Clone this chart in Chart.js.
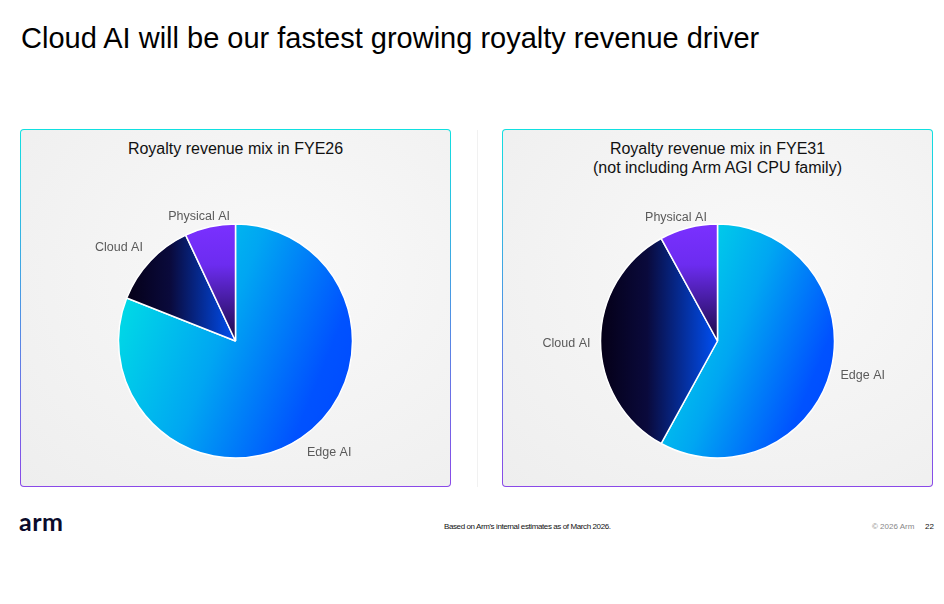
<!DOCTYPE html>
<html>
<head>
<meta charset="utf-8">
<script src="https://cdn.jsdelivr.net/npm/chart.js@4"></script>
<style>
  body { margin: 0; width: 944px; height: 604px; background: #fff; font-family: "Liberation Sans", Arial, sans-serif; position: relative; overflow: hidden; }
  .headline { position: absolute; left: 21px; top: 22px; font-size: 29px; color: #000; white-space: nowrap; }
  .panel {
    position: absolute; top: 129px; width: 429px; height: 356px;
    border: 1.5px solid transparent; border-radius: 4px;
    background: radial-gradient(ellipse at 60% 40%, #f9f9f9, #eeeeee) padding-box,
                linear-gradient(180deg, #10e0e0, #8a48e8) border-box;
  }
  .panel h2 { margin: 0; position: absolute; left: 0; right: 0; top: 9px; text-align: center; font-weight: normal; font-size: 16px; line-height: 19px; color: #111; }
  .panel .wrap { position: absolute; left: 0; top: 60.5px; width: 429px; height: 300px; }
  .divider { position: absolute; left: 477px; top: 130px; width: 1px; height: 357px; background: #f1f1f1; }
  .logo { position: absolute; left: 19px; top: 506px; font-family: Lato, sans-serif; font-weight: 700; font-size: 25px; color: #0b0b2b; letter-spacing: 0.5px; }
  .note { position: absolute; left: 444px; top: 522px; font-size: 8px; letter-spacing: -0.4px; color: #111; white-space: nowrap; }
  .copy { position: absolute; left: 872px; top: 522px; font-size: 8px; color: #888; white-space: nowrap; }
  .page { position: absolute; left: 925px; top: 522px; font-size: 8px; color: #111; }
</style>
</head>
<body>
<div class="headline">Cloud AI will be our fastest growing royalty revenue driver</div>

<div class="panel" style="left:20px">
  <h2>Royalty revenue mix in FYE26</h2>
  <div class="wrap"><canvas id="pie26"></canvas></div>
</div>
<div class="divider"></div>
<div class="panel" style="left:502px">
  <h2>Royalty revenue mix in FYE31<br>(not including Arm AGI CPU family)</h2>
  <div class="wrap"><canvas id="pie31"></canvas></div>
</div>

<div class="logo">arm</div>
<div class="note">Based on Arm's internal estimates as of March 2026.</div>
<div class="copy">© 2026 Arm</div>
<div class="page">22</div>

<script>
const categories = ["Edge AI", "Cloud AI", "Physical AI"];
const mixFYE26 = [81, 12, 7];
const mixFYE31 = [58, 34, 8];

const RADIUS = 117;

// gradient stops and direction (degrees) for each category
const fills = [
  { angle: 22, stops: [[0, "#00eae2"], [0.45, "#00a6f2"], [0.8, "#0052ff"], [1, "#0048ff"]] },
  { angle: 0, stops: [[0, "#050017"], [0.4, "#0a0a3c"], [1, "#0050f4"]] },
  { angle: 90, stops: [[0, "#7a30ff"], [0.35, "#6c2cf0"], [1, "#1a0a44"]] },
];

function sliceFill(context) {
  const chart = context.chart;
  const area = chart.chartArea;
  if (!area) return "#0050ff";
  const data = chart.data.datasets[0].data;
  const total = data.reduce((a, b) => a + b, 0);
  const i = context.dataIndex;
  let before = 0;
  for (let k = 0; k < i; k++) before += data[k];
  const a0 = -Math.PI / 2 + (before / total) * 2 * Math.PI;
  const a1 = a0 + (data[i] / total) * 2 * Math.PI;
  const cx = (area.left + area.right) / 2;
  const cy = (area.top + area.bottom) / 2;
  // bounding box of the slice
  let pts = [[cx, cy]];
  for (let s = 0; s <= 40; s++) {
    const a = a0 + (a1 - a0) * s / 40;
    pts.push([cx + Math.cos(a) * RADIUS, cy + Math.sin(a) * RADIUS]);
  }
  const xs = pts.map(p => p[0]), ys = pts.map(p => p[1]);
  const bx0 = Math.min(...xs), bx1 = Math.max(...xs), by0 = Math.min(...ys), by1 = Math.max(...ys);
  const f = fills[i];
  const t = f.angle * Math.PI / 180;
  const dx = Math.cos(t), dy = Math.sin(t);
  const mx = (bx0 + bx1) / 2, my = (by0 + by1) / 2;
  const proj = [[bx0, by0], [bx1, by0], [bx0, by1], [bx1, by1]].map(p => (p[0] - mx) * dx + (p[1] - my) * dy);
  const lo = Math.min(...proj), hi = Math.max(...proj);
  const g = chart.ctx.createLinearGradient(mx + dx * lo, my + dy * lo, mx + dx * hi, my + dy * hi);
  f.stops.forEach(s => g.addColorStop(s[0], s[1]));
  return g;
}

// category names just outside each slice, like the slide's data labels
const outsideLabels = {
  id: "outsideLabels",
  afterDatasetsDraw(chart) {
    const ctx = chart.ctx;
    const meta = chart.getDatasetMeta(0);
    ctx.save();
    ctx.font = "12.5px 'Liberation Sans', Arial, sans-serif";
    ctx.fillStyle = "#5a5a5a";
    meta.data.forEach((arc, i) => {
      const p = arc.getProps(["x", "y", "startAngle", "endAngle", "outerRadius"], true);
      const mid = (p.startAngle + p.endAngle) / 2;
      const r = p.outerRadius + 10;
      const c = Math.cos(mid), s = Math.sin(mid);
      let x = p.x + c * r, y = p.y + s * r;
      const nearTop = Math.abs(c) < 0.3;
      if (nearTop) {
        ctx.textAlign = "center";
        x += c * 40;
      } else {
        ctx.textAlign = c < 0 ? "right" : "left";
      }
      if (s < -0.3) {
        if (nearTop) { ctx.textBaseline = "alphabetic"; y += 3; }
        else ctx.textBaseline = "bottom";
      } else if (s > 0.3) {
        ctx.textBaseline = "top";
      } else {
        ctx.textBaseline = "middle"; y += 3;
      }
      ctx.fillText(chart.data.labels[i], x, y);
    });
    ctx.restore();
  }
};

function makePie(id, values) {
  return new Chart(document.getElementById(id), {
    type: "pie",
    data: {
      labels: categories,
      datasets: [{
        data: values,
        backgroundColor: sliceFill,
        borderColor: "#ffffff",
        borderWidth: 1.5,
        radius: RADIUS,
      }],
    },
    options: {
      responsive: true,
      maintainAspectRatio: false,
      animation: false,
      layout: { padding: 0 },
      plugins: {
        legend: { display: false },
        tooltip: { enabled: false },
      },
    },
    plugins: [outsideLabels],
  });
}

makePie("pie26", mixFYE26);
makePie("pie31", mixFYE31);
</script>
</body>
</html>
